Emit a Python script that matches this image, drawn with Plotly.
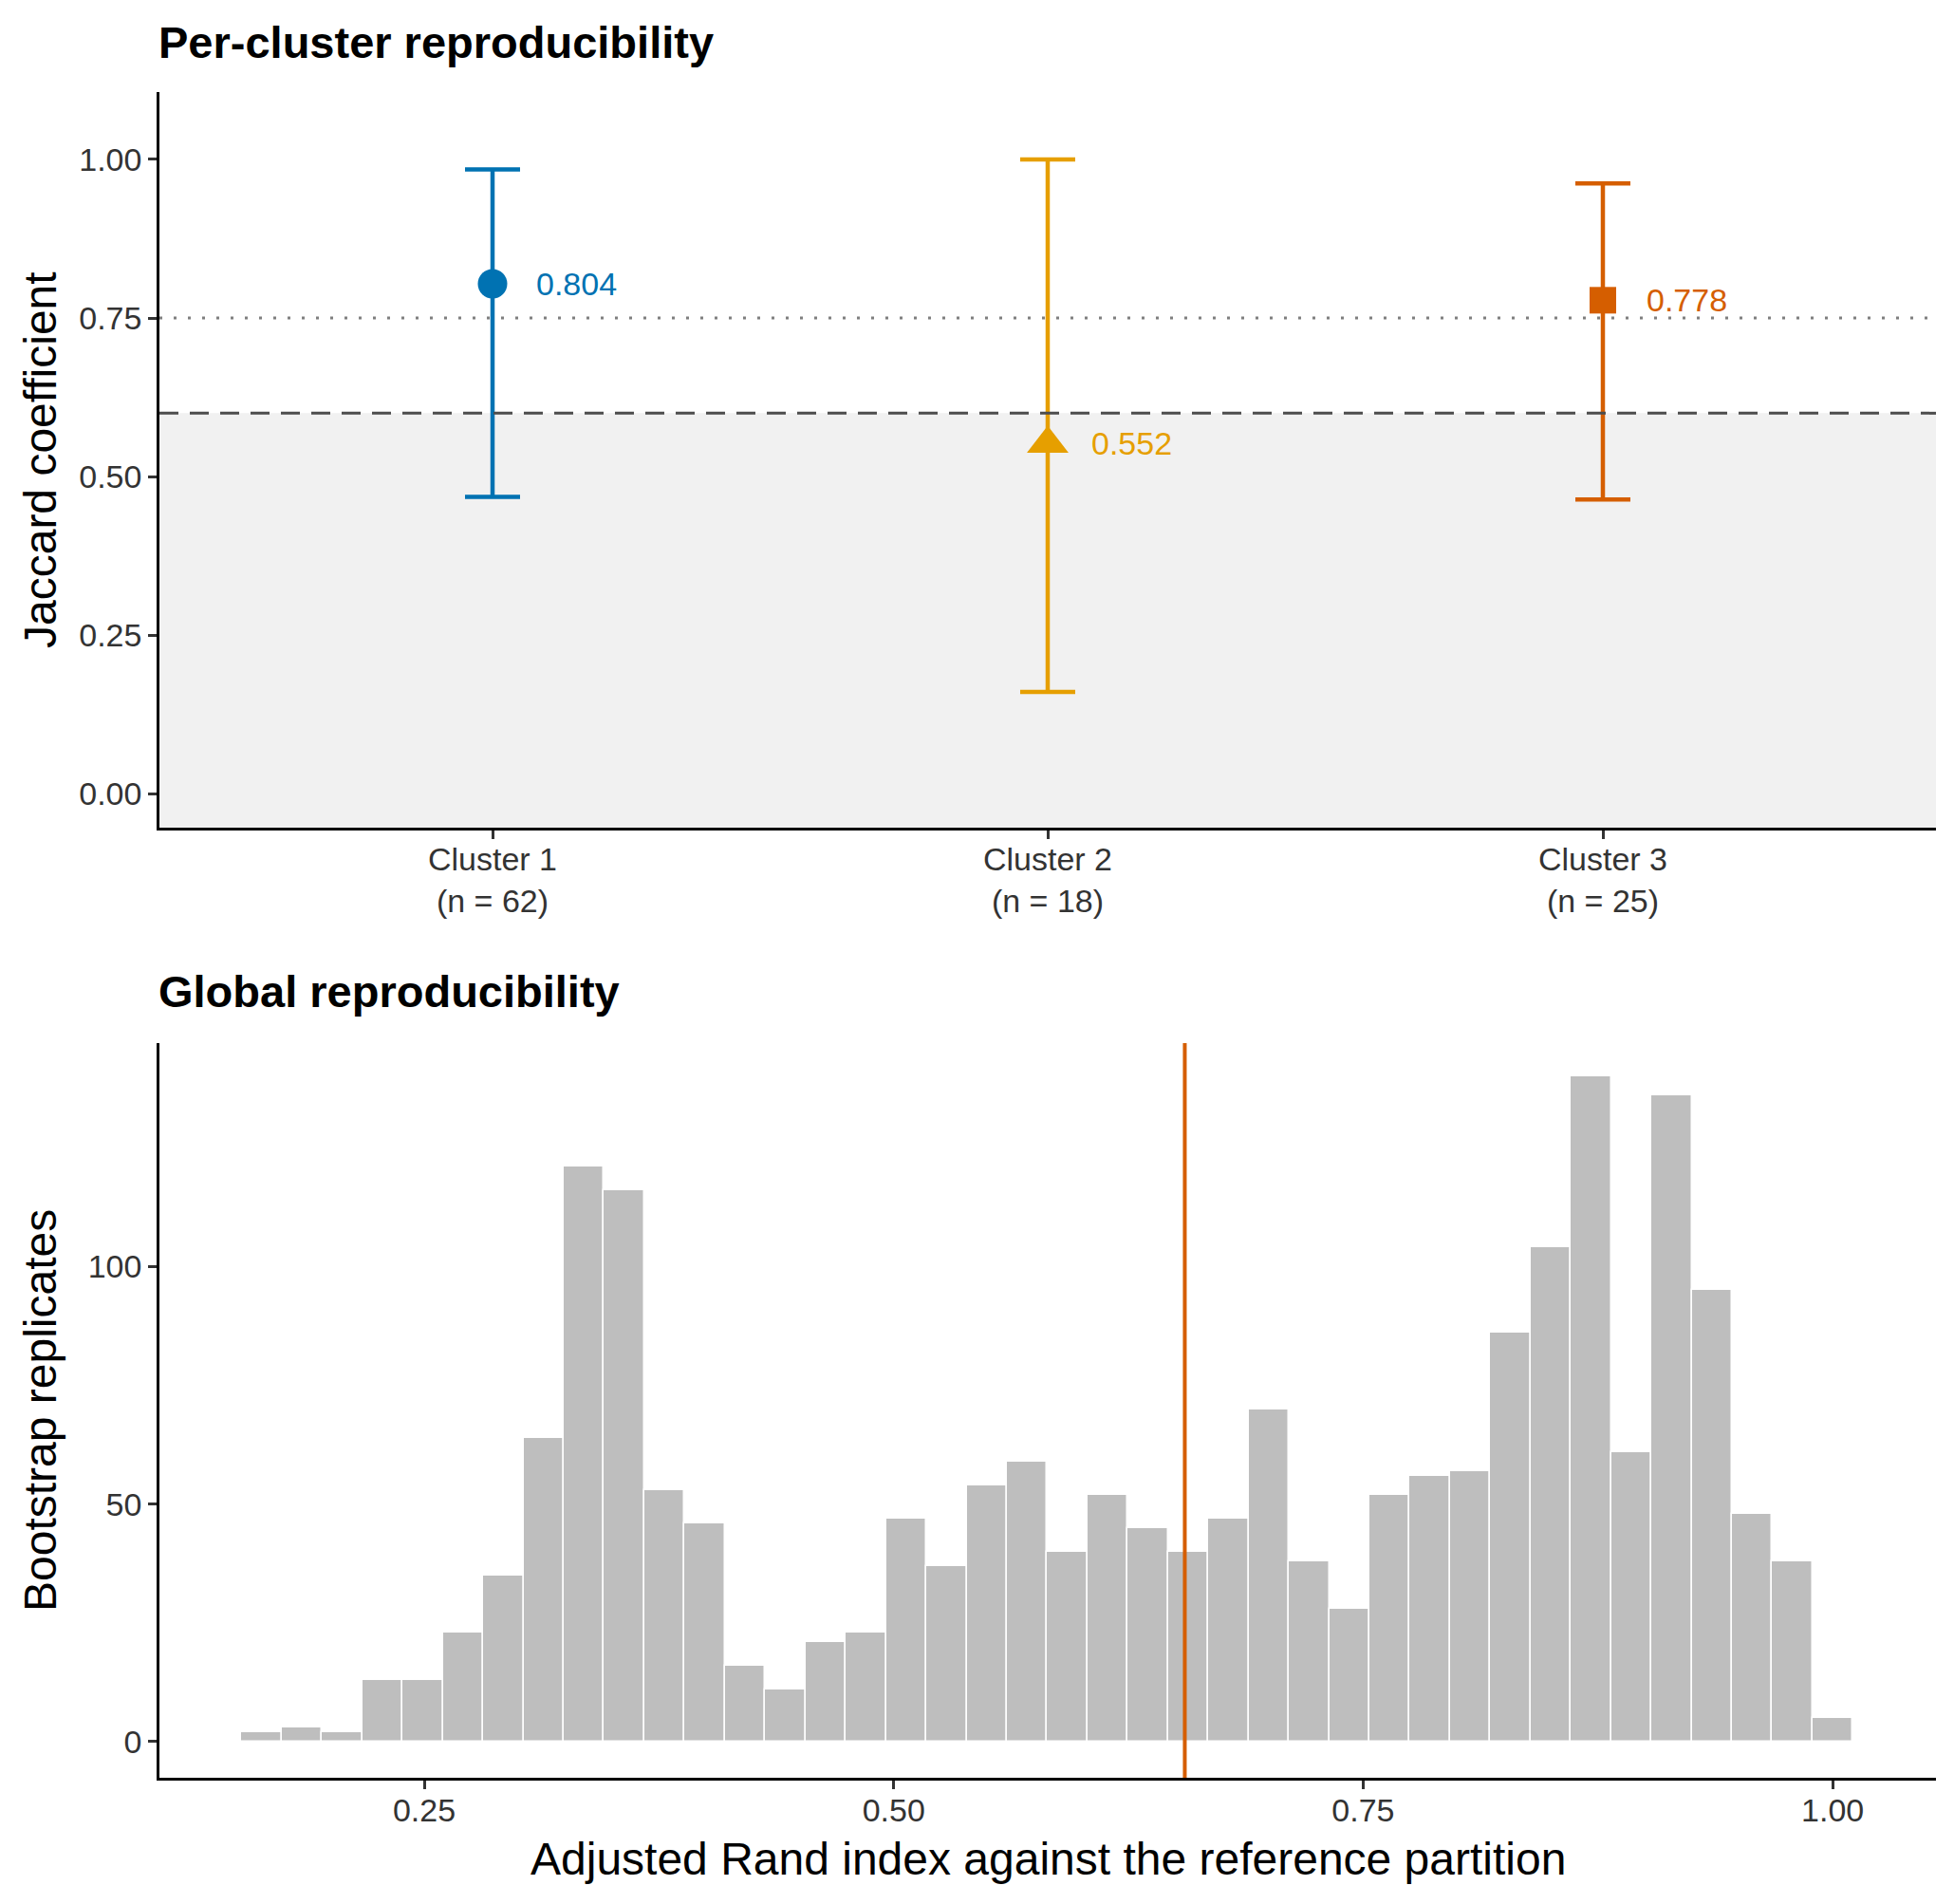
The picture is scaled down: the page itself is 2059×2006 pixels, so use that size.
import numpy as np
import plotly.graph_objects as go

# per-cluster jaccard (bootstrap) ------------------------------------------
clusters = ['Cluster 1', 'Cluster 2', 'Cluster 3']
cluster_n = [62, 18, 25]
jaccard_mean = [0.804, 0.552, 0.778]
jaccard_low = [0.468, 0.161, 0.464]
jaccard_high = [0.984, 1.000, 0.962]
cluster_colors = ['#0072B2', '#E69F00', '#D55E00']
cluster_symbols = ['circle', 'triangle-up', 'square']
cluster_sizes = [31, 38, 28]

stable_cut = 0.75
dissolved_cut = 0.6

# global ARI histogram -----------------------------------------------------
ari_bin_lo = 0.1527
ari_bin_hi = 1.0107
ari_counts = [2, 3, 2, 13, 13, 23, 35, 64, 121, 116,
              53, 46, 16, 11, 21, 23, 47, 37, 54, 59,
              40, 52, 45, 40, 47, 70, 38, 28, 52, 56,
              57, 86, 104, 140, 61, 136, 95, 48, 38, 5]
ari_observed = 0.655

FONT = 'Liberation Sans, Arial, sans-serif'
W, H = 2059, 2006
ML, MR, MT, MB = 160, 27, 89, 141
plot_h = H - MT - MB
plot_w = W - ML - MR

def py(pix):
    # pixel row -> paper y
    return 1 - (pix - MT) / plot_h

def px_(pix):
    # pixel column -> paper x
    return (pix - ML) / plot_w

top_dom = [py(864), 1.0]
bot_dom = [0.0, py(1091)]

edges = np.linspace(ari_bin_lo, ari_bin_hi, len(ari_counts) + 1)
centers = (edges[:-1] + edges[1:]) / 2
bw = edges[1] - edges[0]

data = []

for i in range(len(clusters)):
    data.append(go.Scatter(
        x=[i + 1], y=[jaccard_mean[i]],
        mode='markers',
        marker=dict(symbol=cluster_symbols[i], size=cluster_sizes[i],
                    color=cluster_colors[i], line=dict(width=0)),
        error_y=dict(type='data', symmetric=False,
                     array=[jaccard_high[i] - jaccard_mean[i]],
                     arrayminus=[jaccard_mean[i] - jaccard_low[i]],
                     color=cluster_colors[i], thickness=4.5, width=29),
        xaxis='x', yaxis='y', showlegend=False, hoverinfo='skip'
    ))

data.append(go.Bar(
    x=centers, y=ari_counts, width=bw,
    marker=dict(color='#BEBEBE', line=dict(color='white', width=1.5)),
    xaxis='x2', yaxis='y2', showlegend=False
))

tickfont = dict(family=FONT, size=34, color='#333333')
axis_common = dict(showline=True, linecolor='black', linewidth=2.5,
                   ticks='outside', ticklen=9, tickwidth=2.5, tickcolor='#333333',
                   showgrid=False, zeroline=False, tickfont=tickfont)

shapes = [
    dict(type='rect', xref='x domain', yref='y', x0=0, x1=1, y0=-0.053, y1=dissolved_cut,
         fillcolor='#F1F1F1', line=dict(width=0), layer='below'),
    dict(type='line', xref='x domain', yref='y', x0=0, x1=1, y0=dissolved_cut, y1=dissolved_cut,
         line=dict(color='#4D4D4D', width=3, dash='20px,12px')),
    dict(type='line', xref='x domain', yref='y', x0=0, x1=1, y0=stable_cut, y1=stable_cut,
         line=dict(color='#7F7F7F', width=3, dash='3px,12px')),
    dict(type='line', xref='x2', yref='y2 domain', x0=ari_observed, x1=ari_observed, y0=0, y1=1,
         line=dict(color='#D55E00', width=4)),
]

annotations = []
for i in range(len(clusters)):
    annotations.append(dict(
        x=i + 1, y=jaccard_mean[i], xref='x', yref='y', text='%.3f' % jaccard_mean[i],
        showarrow=False, xanchor='left', yanchor='middle', xshift=44,
        font=dict(family=FONT, size=34, color=cluster_colors[i])))

annotations += [
    dict(text='<b>Per-cluster reproducibility</b>', xref='paper', yref='paper',
         x=0, y=py(37), xanchor='left', yanchor='middle', showarrow=False, xshift=-3,
         font=dict(family=FONT, size=47, color='black')),
    dict(text='<b>Global reproducibility</b>', xref='paper', yref='paper',
         x=0, y=py(1036), xanchor='left', yanchor='middle', showarrow=False, xshift=-3,
         font=dict(family=FONT, size=47, color='black')),
    dict(text='Jaccard coefficient', xref='paper', yref='paper', textangle=-90,
         x=px_(34), y=py(477), xanchor='center', yanchor='middle',
         showarrow=False, font=dict(family=FONT, size=48, color='black')),
    dict(text='Bootstrap replicates', xref='paper', yref='paper', textangle=-90,
         x=px_(34), y=py(1478), xanchor='center', yanchor='middle',
         showarrow=False, font=dict(family=FONT, size=48, color='black')),
    dict(text='Adjusted Rand index against the reference partition', xref='paper', yref='paper',
         x=0.5, y=py(1951), xanchor='center', yanchor='middle',
         showarrow=False, font=dict(family=FONT, size=48, color='black')),
]

layout = go.Layout(
    width=W, height=H,
    margin=dict(l=ML, r=MR, t=MT, b=MB),
    paper_bgcolor='white', plot_bgcolor='white',
    font=dict(family=FONT),
    bargap=0,
    xaxis=dict(axis_common, domain=[0, 1], anchor='y', range=[0.4, 3.6],
               tickvals=[1, 2, 3], ticklabelstandoff=-8,
               ticktext=['%s<br>(n = %d)' % (c, n) for c, n in zip(clusters, cluster_n)]),
    yaxis=dict(axis_common, domain=top_dom, anchor='x', range=[-0.053, 1.106],
               tickvals=[0, 0.25, 0.5, 0.75, 1.0], tickformat='.2f'),
    xaxis2=dict(axis_common, domain=[0, 1], anchor='y2', range=[0.109, 1.055],
                tickvals=[0.25, 0.5, 0.75, 1.0], tickformat='.2f', ticklabelstandoff=-7),
    yaxis2=dict(axis_common, domain=bot_dom, anchor='x2', range=[-7.6, 147],
                tickvals=[0, 50, 100]),
    shapes=shapes,
    annotations=annotations,
)

fig = go.Figure(data, layout)
fig.write_html('out.html')
